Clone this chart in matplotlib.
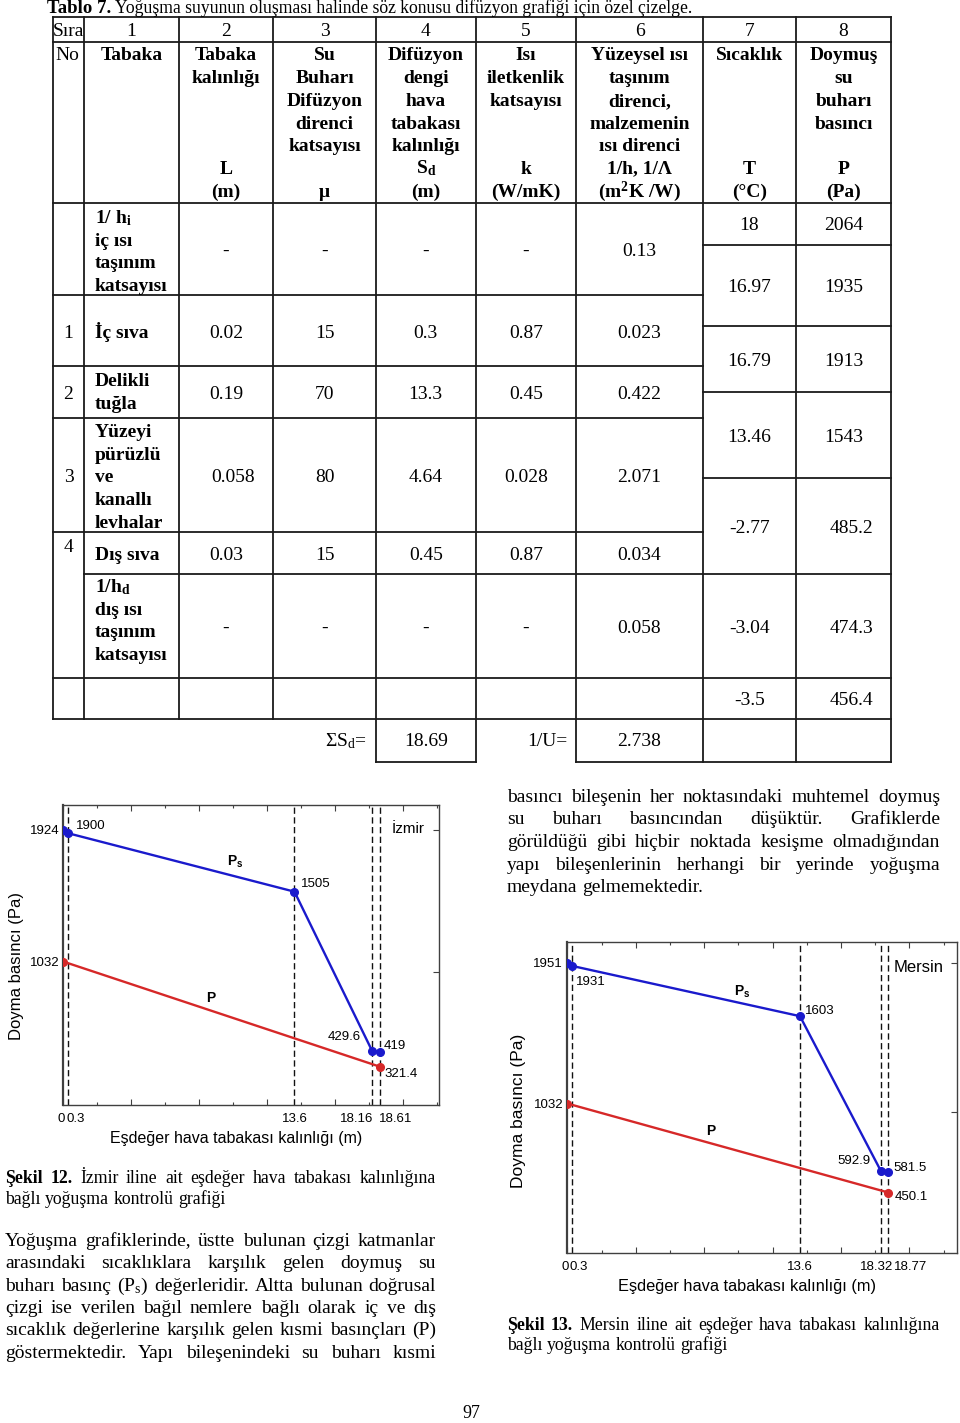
import matplotlib
matplotlib.use('Agg')
import matplotlib.pyplot as plt
from matplotlib.ticker import MultipleLocator
import numpy as np

plt.rcParams['mathtext.default'] = 'regular'

W, H = 960, 1423
SERIF = 'Liberation Serif'
SANS = 'Liberation Sans'

# ------------------------------------------------------------------ data
title_bold = "Tablo 7."
title_rest = "Yoğuşma suyunun oluşması halinde söz konusu difüzyon grafiği için özel çizelge."

col_numbers = ['1', '2', '3', '4', '5', '6', '7', '8']
header_desc = {
    1: ["Tabaka"],
    2: ["Tabaka", "kalınlığı"],
    3: ["Su", "Buharı", "Difüzyon", "direnci", "katsayısı"],
    4: ["Difüzyon", "dengi", "hava", "tabakası", "kalınlığı"],
    5: ["Isı", "iletkenlik", "katsayısı"],
    6: ["Yüzeysel ısı", "taşınım", "direnci,", "malzemenin", "ısı direnci"],
    7: ["Sıcaklık"],
    8: ["Doymuş", "su", "buharı", "basıncı"],
}
header_symbol = {2: "L", 4: "S$_d$", 5: "k", 6: "1/h, 1/Λ", 7: "T", 8: "P"}
header_unit = {2: "(m)", 3: "μ", 4: "(m)", 5: "(W/mK)", 6: "(m$^2$K /W)", 7: "(°C)", 8: "(Pa)"}

inner_label = ["1/ h$_i$", "iç ısı", "taşınım", "katsayısı"]
outer_label = ["1/h$_d$", "dış ısı", "taşınım", "katsayısı"]
layer_no = ["1", "2", "3", "4"]
layer_names = [["İç sıva"], ["Delikli", "tuğla"],
               ["Yüzeyi", "pürüzlü", "ve", "kanallı", "levhalar"], ["Dış sıva"]]
thickness_L = ["0.02", "0.19", "0.058", "0.03"]
mu_vals = ["15", "70", "80", "15"]
Sd_vals = ["0.3", "13.3", "4.64", "0.45"]
k_vals = ["0.87", "0.45", "0.028", "0.87"]
R_vals = ["0.023", "0.422", "2.071", "0.034"]
R_inner = "0.13"
R_outer = "0.058"
temps = ["18", "16.97", "16.79", "13.46", "-2.77", "-3.04", "-3.5"]
psat = ["2064", "1935", "1913", "1543", "485.2", "474.3", "456.4"]
sum_Sd = "18.69"
inv_U = "2.738"

# chart data (Izmir)
izmir_x = [0, 0.3, 13.6, 18.16, 18.61]
izmir_ps = [1924, 1900, 1505, 429.6, 419]
izmir_p_x = [0, 18.61]
izmir_p = [1032, 321.4]
# chart data (Mersin)
mersin_x = [0, 0.3, 13.6, 18.32, 18.77]
mersin_ps = [1951, 1931, 1603, 592.9, 581.5]
mersin_p_x = [0, 18.77]
mersin_p = [1032, 450.1]

para_right = [
    "basıncı bileşenin her noktasındaki muhtemel doymuş",
    "su buharı basıncından düşüktür. Grafiklerde",
    "görüldüğü gibi hiçbir noktada kesişme olmadığından",
    "yapı bileşenlerinin herhangi bir yerinde yoğuşma",
    "meydana gelmemektedir.",
]
para_left = [
    "Yoğuşma grafiklerinde, üstte bulunan çizgi katmanlar",
    "arasındaki sıcaklıklara karşılık gelen doymuş su",
    "buharı basınç (P$_s$) değerleridir. Altta bulunan doğrusal",
    "çizgi ise verilen bağıl nemlere bağlı olarak iç ve dış",
    "sıcaklık değerlerine karşılık gelen kısmi basınçları (P)",
    "göstermektedir. Yapı bileşenindeki su buharı kısmi",
]
cap_left = ("Şekil 12.", ["İzmir iline ait eşdeğer hava tabakası kalınlığına",
                          "bağlı yoğuşma kontrolü grafiği"])
cap_right = ("Şekil 13.", ["Mersin iline ait eşdeğer hava tabakası kalınlığına",
                           "bağlı yoğuşma kontrolü grafiği"])
page_no = "97"

# ------------------------------------------------------------------ canvas
fig = plt.figure(figsize=(W / 100, H / 100), dpi=100)
cv = fig.add_axes([0, 0, 1, 1])
cv.set_xlim(0, W)
cv.set_ylim(H, 0)
cv.axis('off')
R = fig.canvas.get_renderer()

TS = 14  # table font size
LC = '#1a1a1a'
LW = 1.3


def T(x, y, s, ha='center', size=TS, weight='normal', family=SERIF, **kw):
    return cv.text(x, y, s, ha=ha, va='baseline', fontsize=size, weight=weight,
                   family=family, **kw)


def hl(y, x0, x1):
    cv.plot([x0, x1], [y, y], color=LC, lw=LW, solid_capstyle='projecting')


def vl(x, y0, y1):
    cv.plot([x, x], [y0, y1], color=LC, lw=LW, solid_capstyle='projecting')


# title
tb = T(47, 13, title_bold, ha='left', size=13.5, weight='bold')
wb = tb.get_window_extent(R).width
tr = T(47 + wb + 4, 13, title_rest, ha='left', size=13.5)
wr = tr.get_window_extent(R).width
tr.set_fontsize(13.5 * (697 - (47 + wb + 4)) / wr)

# table grid
X = [53, 84, 179, 273, 376, 475.5, 576, 703, 796, 891]
CC = [(X[i] + X[i + 1]) / 2 for i in range(9)]
hl(16.7, X[0], X[9]); hl(41.7, X[0], X[9]); hl(203, X[0], X[9])
for y in [244.7, 325.7, 391.7, 478.3]:
    hl(y, X[7], X[9])
for y in [295, 365.7, 417.7, 532.3]:
    hl(y, X[0], X[7])
hl(574, X[1], X[9]); hl(677.7, X[0], X[9]); hl(719.3, X[0], X[9])
hl(761.7, X[4], X[5]); hl(761.7, X[6], X[9])
for x in X[:4]:
    vl(x, 16.7, 719.3)
for x in X[4:]:
    vl(x, 16.7, 761.7)

# header
T(CC[0], 35.7, "Sıra")
for i, s in enumerate(col_numbers):
    T(CC[i + 1], 35.7, s)
T(55, 60.5, "No", ha='left')
for c, lines in header_desc.items():
    for j, s in enumerate(lines):
        T(CC[c], 60.5 + 22.7 * j, s, weight='bold')
for c, s in header_symbol.items():
    T(CC[c], 173.7, s, weight='bold')
for c, s in header_unit.items():
    T(CC[c], 196.7, s, weight='bold')

# inner surface row
for j, s in enumerate(inner_label):
    T(95, 223 + 22.7 * j, s, ha='left', weight='bold')
for c in [2, 3, 4, 5]:
    T(CC[c], 256, "-")
T(CC[6], 256, R_inner)

# layer rows
row_base = [337.5, 399, 482, 560.5]
label_base = [[337.5], [386, 408.7], [437, 459.7, 482.4, 505.1, 527.8], [560.5]]
no_base = [337.5, 399, 482, 551.5]
for i in range(4):
    T(CC[0], no_base[i], layer_no[i])
    for j, s in enumerate(layer_names[i]):
        T(95, label_base[i][j], s, ha='left', weight='bold')
    xo = 7 if i == 2 else 0
    T(CC[2] + xo, row_base[i], thickness_L[i])
    T(CC[3], row_base[i], mu_vals[i])
    T(CC[4], row_base[i], Sd_vals[i])
    T(CC[5], row_base[i], k_vals[i])
    T(CC[6], row_base[i], R_vals[i])

# outer surface row
for j, s in enumerate(outer_label):
    T(95, 592 + 22.7 * j, s, ha='left', weight='bold')
for c in [2, 3, 4, 5]:
    T(CC[c], 633, "-")
T(CC[6], 633, R_outer)

# temperatures / pressures
tp_base = [230.5, 292, 366, 442, 533, 633, 704.8]
for i in range(7):
    T(CC[7], tp_base[i], temps[i])
    T(CC[8] + (8 if i >= 4 else 0), tp_base[i], psat[i])

# sums
T(367, 746.5, "ΣS$_d$=", ha='right')
T(CC[4], 746.5, sum_Sd)
T(567.5, 746.5, "1/U=", ha='right')
T(CC[6], 746.5, inv_U)


# ------------------------------------------------------------------ paragraphs
def line_words(words, x0, x1, y, size, justify=True):
    objs = []
    for w in words:
        s, wt = (w if isinstance(w, tuple) else (w, 'normal'))
        objs.append(T(x0, y, s, ha='left', size=size, weight=wt))
    ws = [o.get_window_extent(R).width for o in objs]
    if justify and len(objs) > 1:
        gap = (x1 - x0 - sum(ws)) / (len(objs) - 1)
    else:
        gap = size * 1.389 * 0.25
    x = x0
    for o, w in zip(objs, ws):
        o.set_x(x)
        x += w + gap


def paragraph(lines, x0, x1, y0, dy, size, last_justified):
    for i, ln in enumerate(lines):
        just = last_justified or i < len(lines) - 1
        line_words(ln.split(' '), x0, x1, y0 + dy * i, size, just)


def caption(cap, x0, x1, y0, dy, size):
    bold, lines = cap
    w1 = [(b, 'bold') for b in bold.split(' ')] + lines[0].split(' ')
    line_words(w1, x0, x1, y0, size, True)
    line_words(lines[1].split(' '), x0, x1, y0 + dy, size, False)


paragraph(para_right, 507, 940, 801.7, 22.6, 14, False)
paragraph(para_left, 5, 436, 1246, 22.3, 14, True)
caption(cap_left, 5, 436, 1183, 20.5, 12.8)
caption(cap_right, 507, 940, 1330, 20.5, 12.8)
T(471, 1418, page_no, size=13)


# ------------------------------------------------------------------ charts
BLUE = '#1a1acc'
RED = '#d62828'
SPC = '#404040'
FS = 9.5


def chart(rect_px, xlim, ylim, xs, ps, pxs, pv, ps_off, p_off, xtl, right_ticks,
          city, city_xy, city_size, ps_xy, p_xy, ylab_xy, xlab_xy, lab_size):
    l, t, r_, b = rect_px
    ax = fig.add_axes([l / W, 1 - b / H, (r_ - l) / W, (b - t) / H])
    ax.set_facecolor('none')
    ax.set_xlim(*xlim)
    ax.set_ylim(*ylim)
    for sp in ax.spines.values():
        sp.set_color(SPC)
        sp.set_linewidth(1.0)
    ax.spines['left'].set_linewidth(1.6)
    for x in xs[1:]:
        ax.axvline(x, color='#111111', lw=1.0, ls=(0, (4.5, 2.5)), zorder=1)
    ax.plot(xs, ps, '-o', color=BLUE, lw=1.7, ms=5.5, zorder=3)
    ax.plot(pxs, pv, '-o', color=RED, lw=1.7, ms=5.5, zorder=3)
    # x ticks (unlabelled, inward, top and bottom)
    ax.xaxis.set_major_locator(MultipleLocator(4))
    ax.xaxis.set_minor_locator(MultipleLocator(2))
    ax.tick_params(axis='x', which='major', direction='in', length=4, width=0.8,
                   top=True, bottom=True, labelbottom=False, color=SPC)
    ax.tick_params(axis='x', which='minor', direction='in', length=2, width=0.8,
                   top=True, bottom=True, color=SPC)
    # y labels at start values, right-side inward ticks
    ax.set_yticks([ps[0], pv[0]])
    ax.set_yticklabels([f"{ps[0]:g}", f"{pv[0]:g}"], family=SANS, fontsize=FS)
    ax.tick_params(axis='y', which='major', length=0, pad=3)
    ax.set_yticks(right_ticks, minor=True)
    ax.tick_params(axis='y', which='minor', left=False, right=True, direction='in',
                   length=4, width=0.8, color=SPC)
    # x tick labels at dashed lines
    for x, (ha, dx) in zip(xs, xtl):
        ax.annotate(f"{x:g}", xy=(x, 0), xycoords=('data', 'axes fraction'),
                    xytext=(dx, -14), textcoords='offset pixels', ha=ha, va='center',
                    fontsize=FS, family=SANS)
    # value labels
    for x, v, (ha, dx, dy) in zip(xs[1:], ps[1:], ps_off):
        ax.annotate(f"{v:g}", xy=(x, v), xytext=(dx, dy), textcoords='offset pixels',
                    ha=ha, va='center', fontsize=FS, family=SANS)
    ha, dx, dy = p_off
    ax.annotate(f"{pv[-1]:g}", xy=(pxs[-1], pv[-1]), xytext=(dx, dy),
                textcoords='offset pixels', ha=ha, va='center', fontsize=FS, family=SANS)
    ax.text(ps_xy[0], ps_xy[1], "P$_s$", ha='center', va='center', fontsize=10,
            weight='bold', family=SANS)
    ax.text(p_xy[0], p_xy[1], "P", ha='center', va='center', fontsize=10,
            weight='bold', family=SANS)
    ax.text(city_xy[0], city_xy[1], city, ha='left', va='center', fontsize=city_size,
            family=SANS)
    cv.text(ylab_xy[0], ylab_xy[1], "Doyma basıncı (Pa)", rotation=90, ha='center',
            va='center', fontsize=lab_size[0], family=SANS)
    cv.text(xlab_xy[0], xlab_xy[1], "Eşdeğer hava tabakası kalınlığı (m)", ha='center',
            va='center', fontsize=lab_size[1], family=SANS)
    return ax


chart((63.3, 805, 439.3, 1105), (0, 22.12), (61.7, 2091.5),
      izmir_x, izmir_ps, izmir_p_x, izmir_p,
      [('left', 8, 7), ('left', 6, 8), ('right', -11, 14), ('left', 4, 6)],
      ('left', 5, -7),
      [('center', -2), ('left', -2), ('center', 0), ('right', 1), ('left', -1)],
      [1922, 962], "İzmir", (19.3, 1930), 11, (10.1, 1706), (8.7, 786),
      (16.7, 965.5), (235.8, 1138.3), (12, 11.5))

chart((567.3, 941.7, 956.7, 1252.7), (0, 22.76), (57, 2089.8),
      mersin_x, mersin_ps, mersin_p_x, mersin_p,
      [('left', 4, -16), ('left', 5, 5), ('right', -10, 10), ('left', 5, 4)],
      ('left', 6, -4),
      [('center', -2), ('left', -3), ('center', 0), ('center', -4), ('left', 6)],
      [1949, 975], "Mersin", (19.1, 1920), 12, (10.2, 1761), (8.38, 855),
      (519, 1110.8), (747.5, 1286.7), (12.5, 11.8))

fig.savefig('out.png', dpi=100)
